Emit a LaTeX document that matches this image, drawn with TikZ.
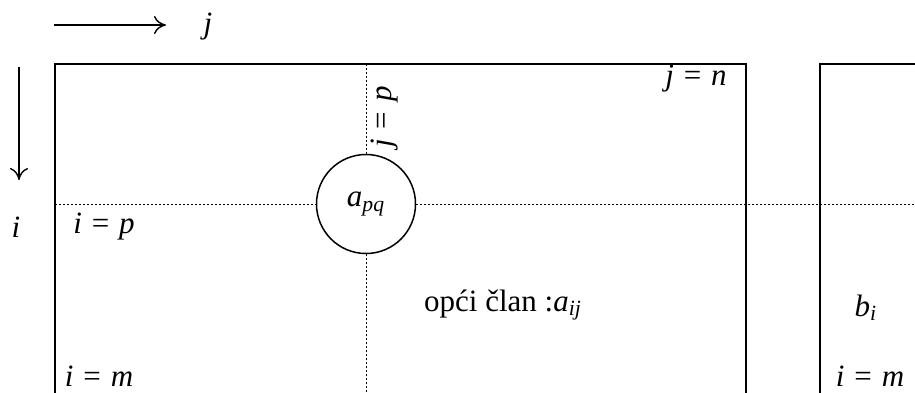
\documentclass[tikz,border=0pt]{standalone}
\usepackage{fontspec}
\setmainfont{Liberation Serif}
\usetikzlibrary{arrows.meta, positioning}

\newcommand{\vi}[1]{\textit{#1}}
\newcommand{\jed}{\hspace{0.32em}=\hspace{0.32em}}

\begin{document}
\begin{tikzpicture}[
	x=0.5pt, y=-0.5pt,
	frame/.style={line width=1pt},
	gridline/.style={line width=0.5pt, dash pattern=on 1pt off 1pt},
	axis/.style={-{To[length=6pt, width=9pt]}, line width=0.7pt},
	lbl/.style={inner sep=0pt, font=\fontsize{15.5}{18}\selectfont},
	elem/.style={circle, draw, fill=white, line width=0.75pt, minimum size=49.5pt, inner sep=0pt, font=\fontsize{15.5}{18}\selectfont}
]
	\useasboundingbox (0,0) rectangle (915,392);
	\clip (0,0) rectangle (915,392);

	% smjer indeksa
	\coordinate (jstart) at (54,25);
	\coordinate (jend) at (166,25);
	\coordinate (istart) at (19,67);
	\coordinate (iend) at (19,180);
	\draw[axis] (jstart) -- (jend);
	\draw[axis] (istart) -- (iend);
	\node[lbl] (jlab) at (208,27) {\vi{j}};
	\node[lbl] (ilab) at (16,227) {\vi{i}};

	% matrica A i vektor b
	\draw[frame] (55,400) -- (55,64) -- (746,64) -- (746,400);
	\draw[frame] (820,400) -- (820,64) -- (930,64);

	% redak p i stupac p
	\coordinate (rowl) at (55,204);
	\coordinate (rowr) at (930,204);
	\coordinate (colt) at (366,64);
	\coordinate (colb) at (366,400);
	\node[elem] (apq) at (366,204) {\vi{a}\textsubscript{\vi{pq}}};
	\draw[gridline] (rowl) -- (apq.west);
	\draw[gridline] (apq.east) -- (rowr);
	\draw[gridline] (colt) -- (apq.north);
	\draw[gridline] (apq.south) -- (colb);

	\node[lbl] (jn) at (696,79) {\vi{j}\jed\vi{n}};
	\node[lbl, rotate=90] (jp) at (385,117) {\vi{j}\jed\vi{p}};
	\node[lbl] (ip) at (104,227) {\vi{i}\jed\vi{p}};
	\node[lbl] (im) at (99,376) {\vi{i}\jed\vi{m}};
	\node[lbl] (aij) at (503,305) {opći član :\vi{a}\textsubscript{\vi{ij}}};
	\node[lbl] (bi) at (866,308) {\vi{b}\textsubscript{\vi{i}}};
	\node[lbl] (imb) at (870,376) {\vi{i}\jed\vi{m}};
\end{tikzpicture}
\end{document}
